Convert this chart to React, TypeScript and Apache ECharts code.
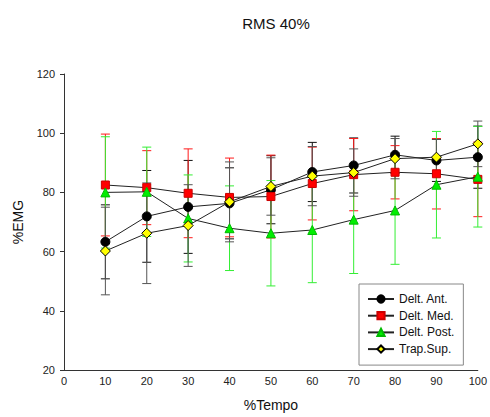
import React, { useEffect, useRef } from "react";
import * as echarts from "echarts";

const xValues = [10, 20, 30, 40, 50, 60, 70, 80, 90, 100];

const antMean = [63.3, 71.9, 75.1, 76.3, 80.9, 86.9, 89.1, 92.7, 90.8, 91.9];
const antErr = [12.5, 15.5, 15.7, 12.0, 11.5, 10.0, 9.3, 6.3, 7.1, 10.5];

const medMean = [82.5, 81.6, 79.7, 78.3, 78.6, 83.0, 86.0, 86.8, 86.3, 84.4];
const medErr = [17.2, 12.5, 15.0, 13.3, 14.0, 12.3, 12.2, 9.0, 11.9, 12.6];

const postMean = [80.0, 80.2, 71.2, 67.9, 66.2, 67.3, 70.8, 73.9, 82.6, 85.3];
const postErr = [18.8, 15.1, 14.7, 14.3, 17.8, 17.8, 18.2, 18.2, 18.0, 17.0];

const trapMean = [60.2, 66.2, 68.8, 76.8, 82.0, 85.5, 86.7, 91.4, 91.9, 96.4];
const trapErr = [14.8, 17.0, 13.8, 13.5, 9.7, 10.0, 8.0, 6.8, 6.0, 7.7];

const seriesNames = ["Delt. Ant.", "Delt. Med.", "Delt. Post.", "Trap.Sup."];

const FONT = "'Liberation Sans', Arial, sans-serif";

function errorSeries(mean: number[], err: number[], color: string, z: number) {
  return {
    type: "custom",
    z,
    silent: true,
    data: xValues.map((x, i) => [x, mean[i], err[i]]),
    renderItem: (_params: any, api: any) => {
      const x = api.value(0);
      const y = api.value(1);
      const e = api.value(2);
      const top = api.coord([x, y + e]);
      const bot = api.coord([x, y - e]);
      const hw = 4.5;
      const style = { stroke: color, lineWidth: 1 };
      return {
        type: "group",
        children: [
          { type: "line", shape: { x1: top[0], y1: top[1], x2: bot[0], y2: bot[1] }, style },
          { type: "line", shape: { x1: top[0] - hw, y1: top[1], x2: top[0] + hw, y2: top[1] }, style },
          { type: "line", shape: { x1: bot[0] - hw, y1: bot[1], x2: bot[0] + hw, y2: bot[1] }, style },
        ],
      };
    },
  };
}

function lineSeries(name: string, mean: number[], symbol: string, size: number, fill: string, border: string, z: number) {
  return {
    type: "line",
    name,
    z,
    data: xValues.map((x, i) => [x, mean[i]]),
    symbol,
    symbolSize: size,
    showAllSymbol: true,
    lineStyle: { color: "#222", width: 1 },
    itemStyle: { color: fill, borderColor: border, borderWidth: 1, opacity: 1 },
    emphasis: { disabled: true },
  };
}

export default function App() {
  const ref = useRef<HTMLDivElement>(null);
  useEffect(() => {
    if (!ref.current) return;
    const chart = echarts.init(ref.current, undefined, { renderer: "svg" });
    chart.setOption({
      animation: false,
      backgroundColor: "#ffffff",
      title: {
        text: "RMS 40%",
        left: 271,
        top: 11,
        textAlign: "center",
        textStyle: { fontFamily: FONT, fontSize: 15, fontWeight: "normal", color: "#111" },
      },
      legend: {
        data: seriesNames,
        orient: "vertical",
        left: 359,
        top: 284,
        padding: [9, 9, 10, 8],
        itemGap: 4.7,
        itemWidth: 26,
        itemHeight: 9,
        borderColor: "#888",
        borderWidth: 1,
        textStyle: { fontFamily: FONT, fontSize: 12, lineHeight: 10, color: "#111" },
      },
      grid: { left: 64, right: 12, top: 74, bottom: 45, containLabel: false },
      xAxis: {
        type: "value",
        min: 0,
        max: 100,
        interval: 10,
        name: "%Tempo",
        nameLocation: "middle",
        nameGap: 28,
        nameTextStyle: { fontFamily: FONT, fontSize: 14, color: "#111" },
        axisLine: { show: true, lineStyle: { color: "#333", width: 1 } },
        axisTick: { show: false },
        splitLine: { show: false },
        axisLabel: { fontFamily: FONT, fontSize: 11, color: "#222", margin: 5 },
      },
      yAxis: {
        type: "value",
        min: 20,
        max: 120,
        interval: 20,
        name: "%EMG",
        nameLocation: "middle",
        nameGap: 39,
        nameTextStyle: { fontFamily: FONT, fontSize: 14, color: "#111" },
        axisLine: { show: true, lineStyle: { color: "#333", width: 1 } },
        axisTick: { show: true, inside: false, length: 4, lineStyle: { color: "#333" } },
        splitLine: { show: false },
        axisLabel: { fontFamily: FONT, fontSize: 11, color: "#222", margin: 9 },
      },
      series: [
        errorSeries(antMean, antErr, "#111111", 2),
        errorSeries(medMean, medErr, "#ff1a1a", 2),
        errorSeries(postMean, postErr, "#33ee33", 2),
        errorSeries(trapMean, trapErr, "#555555", 2),
        lineSeries(seriesNames[0], antMean, "circle", 9, "#000000", "#000000", 3),
        lineSeries(seriesNames[1], medMean, "rect", 8, "#ff0000", "#cc0000", 4),
        lineSeries(seriesNames[2], postMean, "triangle", 9, "#00ee00", "#00bb00", 5),
        lineSeries(seriesNames[3], trapMean, "diamond", 10, "#ffff00", "#000000", 6),
      ],
    });
    return () => chart.dispose();
  }, []);
  return (
    <div
      ref={ref}
      style={{ position: "absolute", left: 0, top: 0, width: 490, height: 417 }}
    />
  );
}
